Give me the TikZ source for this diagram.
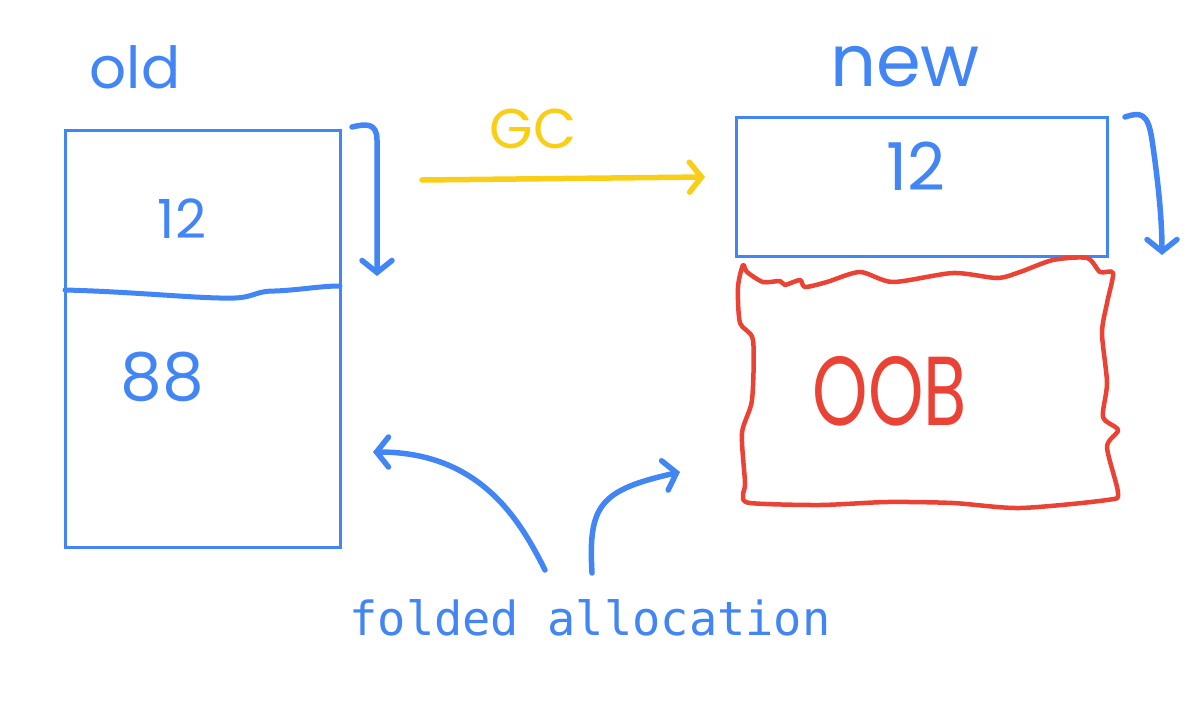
\documentclass[tikz,border=0pt]{standalone}
\usepackage{fontspec}
\setmainfont{Poppins}
\setmonofont{DejaVu Sans Mono}
\usetikzlibrary{arrows.meta}
\usetikzlibrary{positioning}
\definecolor{gblue}{HTML}{4285F4}
\definecolor{gred}{HTML}{EA4335}
\definecolor{gyellow}{HTML}{F9CE16}
\tikzset{every node/.style={inner sep=0, outer sep=0}}
\tikzset{memblock/.style={draw=gblue, line width=3pt}}
\tikzset{pen/.style={line width=5.5pt, line cap=round, line join=round,
    >={Straight Barb[length=12pt, width=30pt, line cap=round]}}}
\tikzset{hand/.style={gblue, font=\fontsize{#1}{#1}\selectfont}}

\begin{document}
\begin{tikzpicture}[x=1pt, y=-1pt]
    \useasboundingbox (0,0) rectangle (1201,723);
    % old heap
    \node[memblock, minimum width=275pt, minimum height=417pt] (oldbox) at (202.5,338.5) {};
    \node[hand=58, anchor=base] (oldlbl) at (135,88) {old};
    \node[hand=54, anchor=base] (oldtwelve) at (182,238) {12};
    \node[hand=66, anchor=base] (eightyeight) at (162,400) {88};
    \draw[gblue, line width=5pt, line cap=round] (65,290) .. controls (140,292) and (200,299) .. (235,298)
        .. controls (255,297) and (255,291) .. (275,291) .. controls (300,290) and (320,286) .. (340,286);
    \coordinate (oldtop) at (352,127);
    \coordinate (oldend) at (377,276);
    \draw[pen, gblue, ->] (oldtop) .. controls (365,124) and (377,122) .. (377,140) -- (oldend);
    % gc
    \coordinate (gcfrom) at (422,180);
    \coordinate (gcto) at (705,177);
    \draw[pen, gyellow, ->] (gcfrom) -- (gcto);
    \node[hand=56, gyellow, anchor=base] (gclbl) at (533,148) {GC};
    % new heap
    \node[hand=72, anchor=base] (newlbl) at (905,86) {new};
    \node[memblock, minimum width=371pt, minimum height=139pt] (newbox) at (921.5,187) {};
    \node[hand=66, anchor=base] (newtwelve) at (916,190) {12};
    \coordinate (newtop) at (1125,117);
    \coordinate (newend) at (1162,255);
    \draw[pen, gblue, ->] (newtop) .. controls (1140,112) and (1148,112) .. (1152,140)
        .. controls (1158,180) and (1162,220) .. (newend);
    % out of bounds
    \draw[gred, line width=4.5pt, line cap=round, line join=round] plot[smooth cycle, tension=0.45] coordinates {
        (743,265) (747,272) (763,282) (780,281) (785,285) (800,280) (805,287) (827,282)
        (860,272) (893,282) (953,273) (997,278) (1020,272) (1053,260) (1087,258) (1100,272)
        (1113,273) (1107,303) (1102,333) (1107,383) (1103,417) (1118,430) (1107,447) (1118,493)
        (1107,500) (1020,508) (953,503) (887,502) (820,505) (750,503) (743,495) (745,483)
        (742,433) (752,400) (753,340) (740,323) (738,287)};
    \node[hand=98, gred, anchor=base, xscale=0.72] (oob) at (890,425) {OOB};
    % folded allocation
    \node[gblue, anchor=base, font=\ttfamily\fontsize{47}{47}\selectfont] (fold) at (590,635) {folded allocation};
    \coordinate (foldleft) at (545,570);
    \coordinate (oldfree) at (373,452);
    \coordinate (foldright) at (592,573);
    \coordinate (newfree) at (680,472);
    \draw[pen, gblue, ->] (foldleft) .. controls (520,520) and (480,452) .. (oldfree);
    \draw[pen, gblue, ->] (foldright) .. controls (588,505) and (600,490) .. (newfree);
\end{tikzpicture}
\end{document}
